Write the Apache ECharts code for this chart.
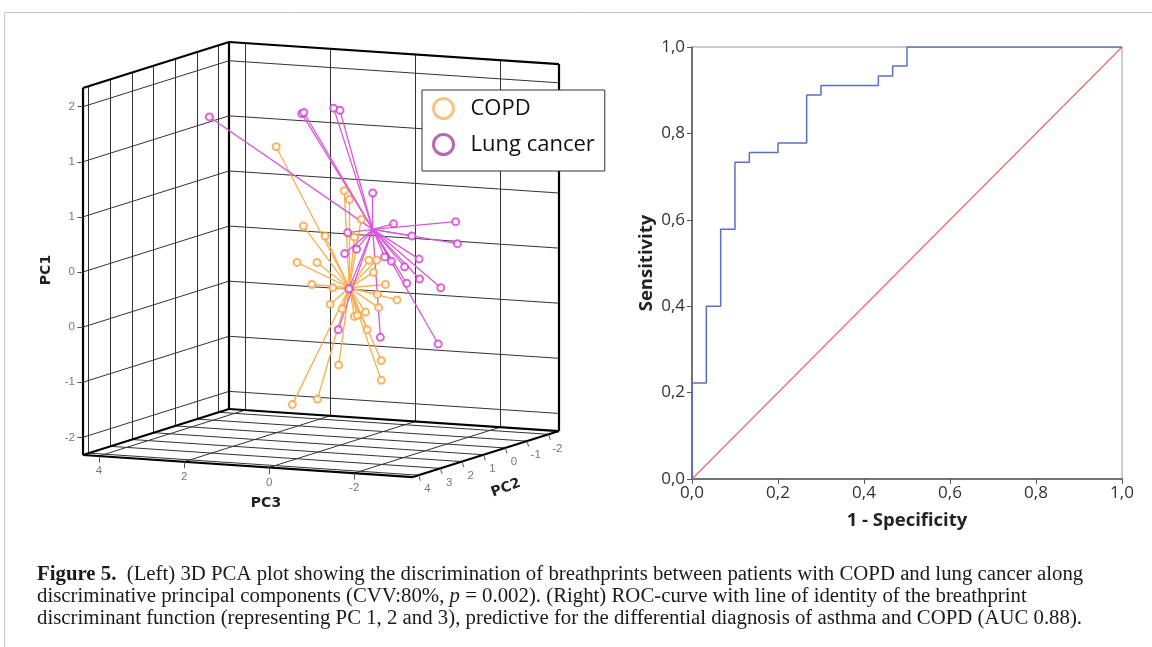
<!DOCTYPE html>
<html>
<head>
<meta charset="utf-8">
<style>
  html, body { margin: 0; padding: 0; background: #fff; }
  #chart { width: 1152px; height: 647px; }
</style>
<script src="https://cdn.jsdelivr.net/npm/echarts@6/dist/echarts.min.js"></script>
</head>
<body>
<div id="chart"></div>
<script>
// ---- left panel: 3D PCA box (PC units) ----
var pc3Range = [-3.38, 4.38];          // right .. left
var pc2Range = [-2.48, 4.27];          // back .. front
var pc1Range = [-1.66, 1.67];          // bottom .. top
var pc3Ticks = [4, 2, 0, -2];
var pc2Ticks = [4, 3, 2, 1, 0, -1, -2];
var pc1Ticks = [1.5, 1, 0.5, 0, -0.5, -1, -1.5];
var pc1TickLabels = ['2', '1', '1', '0', '0', '-1', '-2'];

// points as they appear against the back wall: [PC3, PC1]
var copdPoints = [
  [3.27, 0.72], [1.67, 0.32], [1.55, 0.24], [1.27, 0.06], [2.63, 0.00], [2.12, -0.09],
  [1.43, -0.10], [2.78, -0.33], [2.31, -0.33], [1.09, -0.31], [0.91, -0.31], [0.98, -0.42],
  [2.43, -0.53], [1.94, -0.56], [0.70, -0.53], [0.89, -0.62], [0.43, -0.67], [2.00, -0.71],
  [1.72, -0.75], [0.86, -0.74], [1.43, -0.82], [1.36, -0.81], [1.17, -0.78], [1.13, -0.94],
  [1.80, -1.26], [0.80, -1.22], [0.80, -1.40], [2.89, -1.62], [2.30, -1.57]
];
var copdCenter = [1.55, -0.56];
var lungPoints = [
  [4.84, 0.99], [2.67, 1.02], [2.62, 1.03], [1.92, 1.07], [1.77, 1.05], [1.00, 0.30],
  [0.51, 0.02], [-0.95, 0.04], [0.08, -0.09], [-0.99, -0.16], [1.59, -0.06], [1.38, -0.21],
  [1.66, -0.25], [0.72, -0.28], [0.56, -0.32], [0.25, -0.37], [-0.09, -0.30], [-0.10, -0.48],
  [0.20, -0.52], [-0.60, -0.56], [1.56, -0.57], [1.81, -0.94], [0.82, -1.01], [-0.54, -1.07]
];
var lungCenter = [1.00, -0.03];

// ---- right panel: ROC curve ----
var rocFpr = [0, 1/30, 2/30, 3/30, 4/30, 6/30, 8/30, 9/30, 13/30, 14/30, 15/30];
var rocTpr = [0.222, 0.4, 0.578, 0.733, 0.756, 0.778, 0.889, 0.911, 0.933, 0.956, 1];

// oblique projection of (pc3, pc2, pc1) onto the back-wall plane
var skew3 = 0.0258, depthX = 0.509, depthY = 0.0618;
function proj(p3, p2, p1) {
  var d = p2 - pc2Range[0];
  return [p3 + depthX * d, p1 - skew3 * (pc3Range[1] - p3) - depthY * d];
}

var xL = pc3Range[1], xR = pc3Range[0], zF = pc2Range[1], zB = pc2Range[0],
    yB = pc1Range[0], yT = pc1Range[1];
var edges = [], gridLines = [], ticks = [];
function seg(list, a, b) { list.push({ coords: [proj(a[0], a[1], a[2]), proj(b[0], b[1], b[2])] }); }

// box edges: left wall, back wall, floor
seg(edges, [xL, zF, yB], [xL, zF, yT]);
seg(edges, [xL, zF, yT], [xL, zB, yT]);
seg(edges, [xL, zF, yB], [xL, zB, yB]);
seg(edges, [xL, zB, yB], [xL, zB, yT]);
seg(edges, [xL, zB, yT], [xR, zB, yT]);
seg(edges, [xR, zB, yT], [xR, zB, yB]);
seg(edges, [xL, zB, yB], [xR, zB, yB]);
seg(edges, [xL, zF, yB], [xR, zF, yB]);
seg(edges, [xR, zF, yB], [xR, zB, yB]);

pc1Ticks.forEach(function (v) {
  seg(gridLines, [xL, zF, v], [xL, zB, v]);
  seg(gridLines, [xL, zB, v], [xR, zB, v]);
});
pc2Ticks.forEach(function (v) {
  seg(gridLines, [xL, v, yB], [xL, v, yT]);
  seg(gridLines, [xL, v, yB], [xR, v, yB]);
});
pc3Ticks.forEach(function (v) {
  seg(gridLines, [v, zB, yB], [v, zB, yT]);
  seg(gridLines, [v, zF, yB], [v, zB, yB]);
});

// tick marks and tick labels
var pc1LabelPts = [], pc3LabelPts = [], pc2LabelPts = [];
pc1Ticks.forEach(function (v, i) {
  var p = proj(xL, zF, v);
  var q = [p[0] + 0.13, p[1]];
  ticks.push({ coords: [p, q] });
  pc1LabelPts.push({ value: q, name: pc1TickLabels[i] });
});
pc3Ticks.forEach(function (v) {
  var p = proj(v, zF, yB);
  var q = [p[0], p[1] - 0.06];
  ticks.push({ coords: [p, q] });
  pc3LabelPts.push({ value: q, name: String(v) });
});
pc2Ticks.forEach(function (v) {
  var p = proj(xR, v, yB);
  var q = [p[0] - 0.04, p[1] - 0.05];
  ticks.push({ coords: [p, q] });
  pc2LabelPts.push({ value: q, name: String(v) });
});

function spokes(points, center) {
  return points.map(function (p) { return { coords: [center, p] }; });
}

var rocData = [[0, 0]];
rocFpr.forEach(function (f, i) {
  rocData.push([f, rocTpr[i]]);
  rocData.push([i + 1 < rocFpr.length ? rocFpr[i + 1] : 1, rocTpr[i]]);
});

function tickLabelSeries(data, pos, offset) {
  return {
    type: 'scatter', xAxisIndex: 0, yAxisIndex: 0, data: data, clip: false,
    symbolSize: 1, itemStyle: { color: 'rgba(0,0,0,0)' }, silent: true,
    label: {
      show: true, position: pos, distance: 2, offset: offset || [0, 0],
      formatter: function (p) { return p.name; },
      color: '#555', fontSize: 11.5, fontFamily: 'Liberation Sans'
    }
  };
}

var commaFmt = function (v) { return v.toFixed(1).replace('.', ','); };

var chart = echarts.init(document.getElementById('chart'));
chart.setOption({
  animation: false,
  backgroundColor: '#fff',
  grid: [
    { left: 229, top: 42, width: 330, height: 367 },
    { left: 692, top: 47, width: 430, height: 432, show: true, borderColor: '#999', borderWidth: 1 }
  ],
  xAxis: [
    { gridIndex: 0, type: 'value', min: pc3Range[0], max: pc3Range[1], inverse: true, show: false },
    {
      gridIndex: 1, type: 'value', min: 0, max: 1, interval: 0.2,
      name: '1 - Specificity', nameLocation: 'middle', nameGap: 32,
      nameTextStyle: { fontFamily: 'Open Sans', fontWeight: 'bold', fontSize: 18.5, color: '#222' },
      axisLine: { lineStyle: { color: '#555', width: 1.5 } },
      axisTick: { inside: false, length: 5, lineStyle: { color: '#555' } },
      axisLabel: { color: '#333', fontSize: 17, fontFamily: 'Open Sans', margin: 6, formatter: commaFmt },
      splitLine: { show: false }
    }
  ],
  yAxis: [
    { gridIndex: 0, type: 'value', min: pc1Range[0], max: pc1Range[1], show: false },
    {
      gridIndex: 1, type: 'value', min: 0, max: 1, interval: 0.2,
      name: 'Sensitivity', nameLocation: 'middle', nameGap: 36,
      nameTextStyle: { fontFamily: 'Open Sans', fontWeight: 'bold', fontSize: 18.5, color: '#222' },
      axisLine: { lineStyle: { color: '#555', width: 1.5 } },
      axisTick: { inside: false, length: 5, lineStyle: { color: '#555' } },
      axisLabel: { color: '#333', fontSize: 17, fontFamily: 'Open Sans', margin: 7, formatter: commaFmt },
      splitLine: { show: false }
    }
  ],
  legend: {
    left: 422, top: 90, orient: 'vertical',
    backgroundColor: '#fff', borderColor: '#333', borderWidth: 1,
    padding: [7, 10, 15, 10], itemWidth: 20, itemHeight: 20, itemGap: 13,
    textStyle: { fontSize: 22, lineHeight: 22, fontFamily: 'Open Sans', color: '#111', padding: [0, 0, 0, 12] },
    data: [
      { name: 'COPD', icon: 'circle', itemStyle: { color: '#fff', borderColor: '#F8B468', borderWidth: 3 } },
      { name: 'Lung cancer', icon: 'circle', itemStyle: { color: '#fff', borderColor: '#A2449C', borderWidth: 3 } }
    ]
  },
  series: [
    { type: 'lines', coordinateSystem: 'cartesian2d', xAxisIndex: 0, yAxisIndex: 0, clip: false, silent: true,
      data: gridLines, lineStyle: { color: '#333', width: 1, opacity: 1 } },
    { type: 'lines', coordinateSystem: 'cartesian2d', xAxisIndex: 0, yAxisIndex: 0, clip: false, silent: true,
      data: edges, lineStyle: { color: '#000', width: 2.2, opacity: 1 } },
    { type: 'lines', coordinateSystem: 'cartesian2d', xAxisIndex: 0, yAxisIndex: 0, clip: false, silent: true,
      data: ticks, lineStyle: { color: '#555', width: 1, opacity: 1 } },
    tickLabelSeries(pc1LabelPts, 'left'),
    tickLabelSeries(pc3LabelPts, 'bottom'),
    tickLabelSeries(pc2LabelPts, 'bottom', [7, 0]),
    { type: 'lines', coordinateSystem: 'cartesian2d', xAxisIndex: 0, yAxisIndex: 0, clip: false, silent: true,
      data: spokes(copdPoints, copdCenter), lineStyle: { color: '#F7AE4E', width: 1.3, opacity: 1 } },
    { type: 'lines', coordinateSystem: 'cartesian2d', xAxisIndex: 0, yAxisIndex: 0, clip: false, silent: true,
      data: spokes(lungPoints, lungCenter), lineStyle: { color: '#D958D9', width: 1.3, opacity: 1 } },
    { name: 'COPD', type: 'scatter', xAxisIndex: 0, yAxisIndex: 0, clip: false, data: copdPoints,
      symbol: 'emptyCircle', symbolSize: 7, itemStyle: { color: '#F5A23C', borderWidth: 2 } },
    { name: 'Lung cancer', type: 'scatter', xAxisIndex: 0, yAxisIndex: 0, clip: false, data: lungPoints,
      symbol: 'emptyCircle', symbolSize: 7, itemStyle: { color: '#D23FD2', borderWidth: 2 } },
    { type: 'line', xAxisIndex: 1, yAxisIndex: 1, data: [[0, 0], [1, 1]], showSymbol: false, silent: true,
      lineStyle: { color: '#EC6A68', width: 1.2 } },
    { type: 'line', xAxisIndex: 1, yAxisIndex: 1, data: rocData, showSymbol: false, silent: true,
      lineStyle: { color: '#5A6FC4', width: 1.5 } }
  ],
  graphic: [
    { type: 'rect', silent: true, z: -10, shape: { x: 4.5, y: 12.5, width: 1200, height: 700 },
      style: { fill: 'none', stroke: '#c4c4c4', lineWidth: 1 } },
    { type: 'text', x: 46, y: 270, rotation: Math.PI / 2, silent: true,
      style: { text: 'PC1', align: 'center', verticalAlign: 'middle', fontSize: 14, fontWeight: 'bold',
        fontFamily: 'DejaVu Sans', fill: '#222' } },
    { type: 'text', x: 266, y: 503, silent: true,
      style: { text: 'PC3', align: 'center', verticalAlign: 'middle', fontSize: 14, fontWeight: 'bold',
        fontFamily: 'DejaVu Sans', fill: '#222' } },
    { type: 'text', x: 506, y: 488, rotation: 0.36, silent: true,
      style: { text: 'PC2', align: 'center', verticalAlign: 'middle', fontSize: 14, fontWeight: 'bold',
        fontFamily: 'DejaVu Sans', fill: '#222' } },
    { type: 'text', x: 37, y: 575, silent: true,
      style: { text: '{b|Figure 5.}  (Left) 3D PCA plot showing the discrimination of breathprints between patients with COPD and lung cancer along',
        verticalAlign: 'middle', fontSize: 20.8, fontFamily: 'Liberation Serif', fill: '#1a1a1a',
        rich: { b: { fontWeight: 'bold', fontSize: 20.8, fontFamily: 'Liberation Serif', fill: '#1a1a1a' } } } },
    { type: 'text', x: 37, y: 597, silent: true,
      style: { text: 'discriminative principal components (CVV:80%, {i|p} = 0.002). (Right) ROC-curve with line of identity of the breathprint',
        verticalAlign: 'middle', fontSize: 20.8, fontFamily: 'Liberation Serif', fill: '#1a1a1a',
        rich: { i: { fontStyle: 'italic', fontSize: 20.8, fontFamily: 'Liberation Serif', fill: '#1a1a1a' } } } },
    { type: 'text', x: 37, y: 619, silent: true,
      style: { text: 'discriminant function (representing PC 1, 2 and 3), predictive for the differential diagnosis of asthma and COPD (AUC 0.88).',
        verticalAlign: 'middle', fontSize: 20.8, fontFamily: 'Liberation Serif', fill: '#1a1a1a' } }
  ]
});
</script>
</body>
</html>
